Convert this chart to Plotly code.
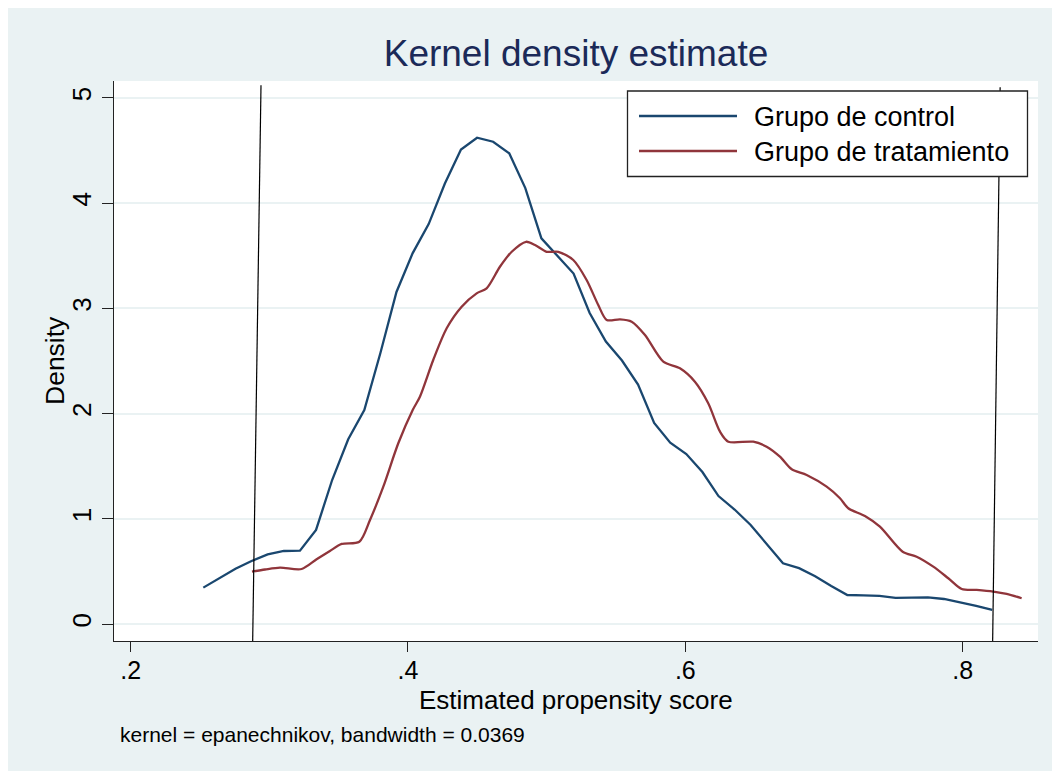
import plotly.graph_objects as go

# ---- data ----
control_x = [0.2524, 0.2640, 0.2756, 0.2872, 0.2988, 0.3105, 0.3221, 0.3337, 0.3453, 0.3569,
             0.3685, 0.3801, 0.3917, 0.4033, 0.4149, 0.4266, 0.4382, 0.4498, 0.4614, 0.4730,
             0.4846, 0.4962, 0.5078, 0.5194, 0.5310, 0.5427, 0.5543, 0.5659, 0.5775, 0.5891,
             0.6007, 0.6123, 0.6239, 0.6355, 0.6471, 0.6588, 0.6704, 0.6820, 0.6936, 0.7052,
             0.7168, 0.7284, 0.7400, 0.7516, 0.7632, 0.7749, 0.7865, 0.7981, 0.8097, 0.8213]
control_y = [0.348, 0.440, 0.527, 0.601, 0.663, 0.696, 0.699, 0.896, 1.370, 1.757,
             2.035, 2.576, 3.156, 3.523, 3.801, 4.186, 4.509, 4.621, 4.583, 4.473,
             4.143, 3.666, 3.502, 3.331, 2.956, 2.686, 2.505, 2.277, 1.912, 1.724,
             1.617, 1.446, 1.218, 1.090, 0.943, 0.763, 0.579, 0.533, 0.456, 0.364,
             0.278, 0.274, 0.269, 0.250, 0.255, 0.255, 0.240, 0.209, 0.174, 0.136]

treat_x = [0.2875, 0.2969, 0.3077, 0.3233, 0.3341, 0.3437, 0.3522, 0.3649, 0.3726, 0.3822,
           0.3930, 0.4034, 0.4086, 0.4182, 0.4279, 0.4387, 0.4495, 0.4567, 0.4663, 0.4748,
           0.4851, 0.4916, 0.5000, 0.5084, 0.5192, 0.5288, 0.5372, 0.5433, 0.5529, 0.5613,
           0.5709, 0.5841, 0.5961, 0.6069, 0.6165, 0.6250, 0.6310, 0.6490, 0.6586, 0.6682,
           0.6767, 0.6875, 0.7019, 0.7115, 0.7175, 0.7295, 0.7403, 0.7567, 0.7668, 0.7788,
           0.7896, 0.7993, 0.8101, 0.8221, 0.8317, 0.8425]
treat_y = [0.500, 0.520, 0.538, 0.525, 0.617, 0.696, 0.763, 0.784, 0.991, 1.307,
           1.719, 2.035, 2.161, 2.510, 2.811, 3.016, 3.143, 3.191, 3.396, 3.538,
           3.633, 3.602, 3.538, 3.538, 3.460, 3.270, 3.032, 2.890, 2.896, 2.874,
           2.747, 2.494, 2.431, 2.304, 2.099, 1.829, 1.734, 1.734, 1.687, 1.592,
           1.472, 1.418, 1.307, 1.197, 1.102, 1.028, 0.927, 0.689, 0.642, 0.547,
           0.437, 0.335, 0.326, 0.310, 0.288, 0.247]

# common-support boundary lines (top point, bottom point)
left_line_x = [0.294, 0.288]
left_line_y = [5.12, -0.16]
right_line_x = [0.827, 0.8216]
right_line_y = [5.10, -0.16]

series_names = ["Grupo de control", "Grupo de tratamiento"]
x_tickvals = [0.2, 0.4, 0.6, 0.8]
x_ticktext = [".2", ".4", ".6", ".8"]
y_tickvals = [0, 1, 2, 3, 4, 5]

# ---- styles ----
BLUE = "#1A476F"
RED = "#90353B"
BG = "#EAF2F3"
FONT = "Liberation Sans, Arial, sans-serif"

fig = go.Figure()
fig.add_trace(go.Scatter(x=control_x, y=control_y, mode="lines", name=series_names[0],
                         line=dict(color=BLUE, width=2.3), showlegend=False))
fig.add_trace(go.Scatter(x=treat_x, y=treat_y, mode="lines", name=series_names[1],
                         line=dict(color=RED, width=2.3, shape="spline", smoothing=0.8),
                         showlegend=False))
fig.add_trace(go.Scatter(x=left_line_x, y=left_line_y, mode="lines",
                         line=dict(color="black", width=1.2), showlegend=False, hoverinfo="skip"))
fig.add_trace(go.Scatter(x=right_line_x, y=right_line_y, mode="lines",
                         line=dict(color="black", width=1.2), showlegend=False, hoverinfo="skip"))

OFF = 8  # page body margin
W, H = 1060 - OFF, 771 - OFF
L, T = 114 - OFF, 81 - OFF
pw, ph = 924, 560
R, B = W - L - pw, H - T - ph


def px2x(px):  # page pixel -> paper x
    return (px - OFF - L) / pw


def py2y(py):  # page pixel -> paper y
    return (T + ph - (py - OFF)) / ph


shapes = [
    dict(type="rect", xref="paper", yref="paper", x0=px2x(627.5), x1=px2x(1027.5),
         y0=py2y(176.5), y1=py2y(91), fillcolor="white", line=dict(color="#222", width=1.3)),
]
ann = []
for i, (name, col) in enumerate(zip(series_names, [BLUE, RED])):
    ly = 116 + 35 * i
    shapes.append(dict(type="line", xref="paper", yref="paper", x0=px2x(639), x1=px2x(737),
                       y0=py2y(ly), y1=py2y(ly), line=dict(color=col, width=2.3)))
    ann.append(dict(text=name, xref="paper", yref="paper", x=px2x(752), y=py2y(ly + 1),
                    xanchor="left", yanchor="middle", showarrow=False,
                    font=dict(family=FONT, size=27, color="black")))

ann.append(dict(text="Density", xref="paper", yref="paper", x=px2x(55), y=py2y(361),
                xanchor="center", yanchor="middle", textangle=-90, showarrow=False,
                font=dict(family=FONT, size=26.5, color="black")))
ann.append(dict(text="Estimated propensity score", xref="paper", yref="paper",
                x=px2x(576), y=py2y(700), xanchor="center", yanchor="middle", showarrow=False,
                font=dict(family=FONT, size=26, color="black")))
ann.append(dict(text="kernel = epanechnikov, bandwidth = 0.0369", xref="paper", yref="paper",
                x=px2x(118), y=py2y(734), xanchor="left", yanchor="middle", showarrow=False,
                font=dict(family=FONT, size=21, color="black")))

fig.update_layout(
    width=W, height=H,
    margin=dict(l=L, r=R, t=T, b=B),
    paper_bgcolor=BG, plot_bgcolor="white",
    font=dict(family=FONT, color="black"),
    title=dict(text="Kernel density estimate", x=px2x(576), xref="paper", xanchor="center",
               y=1 - (53 - OFF) / H, yref="container", yanchor="middle",
               font=dict(family=FONT, size=37, color="#1B2A58")),
    shapes=shapes, annotations=ann,
    showlegend=False,
    xaxis=dict(range=[0.188, 0.8543], tickvals=x_tickvals, ticktext=x_ticktext,
               showgrid=False, zeroline=False, showline=True, linecolor="#222", linewidth=1.4,
               ticks="outside", ticklen=10, tickwidth=1.4, tickcolor="#222",
               ticklabelstandoff=-3,
               tickfont=dict(size=25, color="black")),
    yaxis=dict(range=[-0.159, 5.16], tickvals=y_tickvals, tickangle=-90,
               showgrid=True, gridcolor=BG, gridwidth=1.6, zeroline=False,
               showline=True, linecolor="#222", linewidth=1.4,
               ticks="outside", ticklen=11, tickwidth=1.4, tickcolor="#222",
               tickfont=dict(size=26, color="black")),
)

fig.write_html("out.html")
